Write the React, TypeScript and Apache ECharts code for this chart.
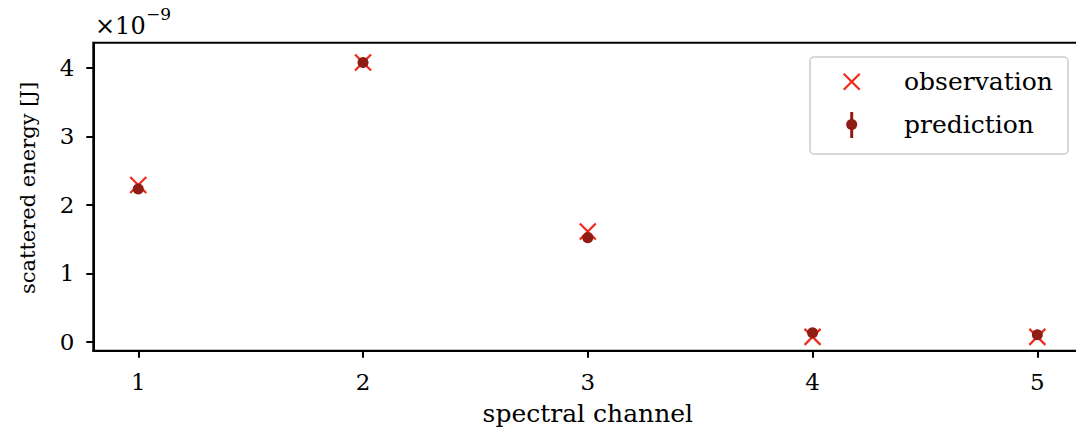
import React, { useEffect, useRef } from "react";
import * as echarts from "echarts";

const channels = [1, 2, 3, 4, 5];
const observation = [2.29, 4.08, 1.61, 0.07, 0.07];
const prediction = [2.23, 4.08, 1.52, 0.13, 0.1];
const xTicks = [1, 2, 3, 4, 5];
const yTicks = [0, 1, 2, 3, 4];

const FONT = "DejaVu Serif";
const OBS_COLOR = "#ee2a1c";
const PRED_COLOR = "#8e1d14";

export default function App() {
  const ref = useRef<HTMLDivElement>(null);
  useEffect(() => {
    if (!ref.current) return;
    const chart = echarts.init(ref.current, null, { renderer: "svg" });
    chart.setOption({
      animation: false,
      backgroundColor: "#ffffff",
      textStyle: { fontFamily: FONT },
      grid: {
        left: 93.3,
        top: 42.7,
        right: 7.7,
        bottom: 88.3,
        show: true,
        borderColor: "#000",
        borderWidth: 2,
        backgroundColor: "transparent",
      },
      xAxis: {
        type: "value",
        min: 0.8,
        max: 5.2,
        name: "spectral channel",
        nameLocation: "middle",
        nameGap: 50,
        nameTextStyle: { fontFamily: FONT, fontSize: 25, color: "#000" },
        axisLine: { show: true, onZero: false, lineStyle: { color: "#000", width: 2 } },
        axisTick: {
          show: true,
          customValues: xTicks,
          length: 7,
          lineStyle: { color: "#000", width: 2 },
        },
        axisLabel: {
          customValues: xTicks,
          margin: 20,
          fontFamily: FONT,
          fontSize: 23,
          color: "#000",
        },
        splitLine: { show: false },
      },
      yAxis: {
        type: "value",
        min: -0.132,
        max: 4.37,
        axisLine: { show: true, onZero: false, lineStyle: { color: "#000", width: 2 } },
        axisTick: {
          show: true,
          customValues: yTicks,
          length: 7,
          lineStyle: { color: "#000", width: 2 },
        },
        axisLabel: {
          customValues: yTicks,
          margin: 19,
          fontFamily: FONT,
          fontSize: 23,
          color: "#000",
        },
        splitLine: { show: false },
      },
      series: [
        {
          name: "observation",
          type: "scatter",
          data: channels.map((c, i) => [c, observation[i]]),
          symbol: "path://M0,0L10,10M10,0L0,10",
          symbolSize: 16,
          itemStyle: {
            color: "transparent",
            borderColor: OBS_COLOR,
            borderWidth: 2.2,
            opacity: 1,
          },
          z: 2,
        },
        {
          name: "prediction",
          type: "scatter",
          data: channels.map((c, i) => [c, prediction[i]]),
          symbol: "circle",
          symbolSize: 11,
          itemStyle: { color: PRED_COLOR, opacity: 1 },
          z: 3,
        },
      ],
      graphic: [
        {
          type: "text",
          x: 28,
          y: 188,
          rotation: Math.PI / 2,
          style: {
            text: "scattered energy [J]",
            font: `21px "${FONT}"`,
            fill: "#000",
            align: "center",
            verticalAlign: "middle",
          },
        },
        {
          type: "text",
          left: 95,
          top: 14,
          style: {
            text: "×10",
            font: `24px "${FONT}"`,
            fill: "#000",
          },
        },
        {
          type: "text",
          left: 146,
          top: 5,
          style: {
            text: "−9",
            font: `17px "${FONT}"`,
            fill: "#000",
          },
        },
        {
          type: "rect",
          shape: { x: 810, y: 57, width: 258, height: 97, r: 4 },
          style: { fill: "rgba(255,255,255,0.8)", stroke: "#cccccc", lineWidth: 1.5 },
          z: 10,
        },
        {
          type: "line",
          shape: { x1: 843.7, y1: 73.7, x2: 859.7, y2: 89.7 },
          style: { stroke: OBS_COLOR, lineWidth: 2.2 },
          z: 11,
        },
        {
          type: "line",
          shape: { x1: 859.7, y1: 73.7, x2: 843.7, y2: 89.7 },
          style: { stroke: OBS_COLOR, lineWidth: 2.2 },
          z: 11,
        },
        {
          type: "line",
          shape: { x1: 851.7, y1: 112, x2: 851.7, y2: 138 },
          style: { stroke: PRED_COLOR, lineWidth: 3 },
          z: 11,
        },
        {
          type: "circle",
          shape: { cx: 851.7, cy: 124.5, r: 5.5 },
          style: { fill: PRED_COLOR },
          z: 11,
        },
        {
          type: "text",
          x: 904,
          y: 81,
          style: {
            text: "observation",
            font: `25px "${FONT}"`,
            fill: "#000",
            verticalAlign: "middle",
          },
          z: 11,
        },
        {
          type: "text",
          x: 904,
          y: 124.5,
          style: {
            text: "prediction",
            font: `25px "${FONT}"`,
            fill: "#000",
            verticalAlign: "middle",
          },
          z: 11,
        },
      ],
    });
    return () => chart.dispose();
  }, []);
  return (
    <div
      style={{
        position: "fixed",
        left: 0,
        top: 0,
        width: 1076,
        height: 439,
        overflow: "hidden",
        background: "#fff",
      }}
    >
      <div ref={ref} style={{ width: 1090, height: 439 }} />
    </div>
  );
}
